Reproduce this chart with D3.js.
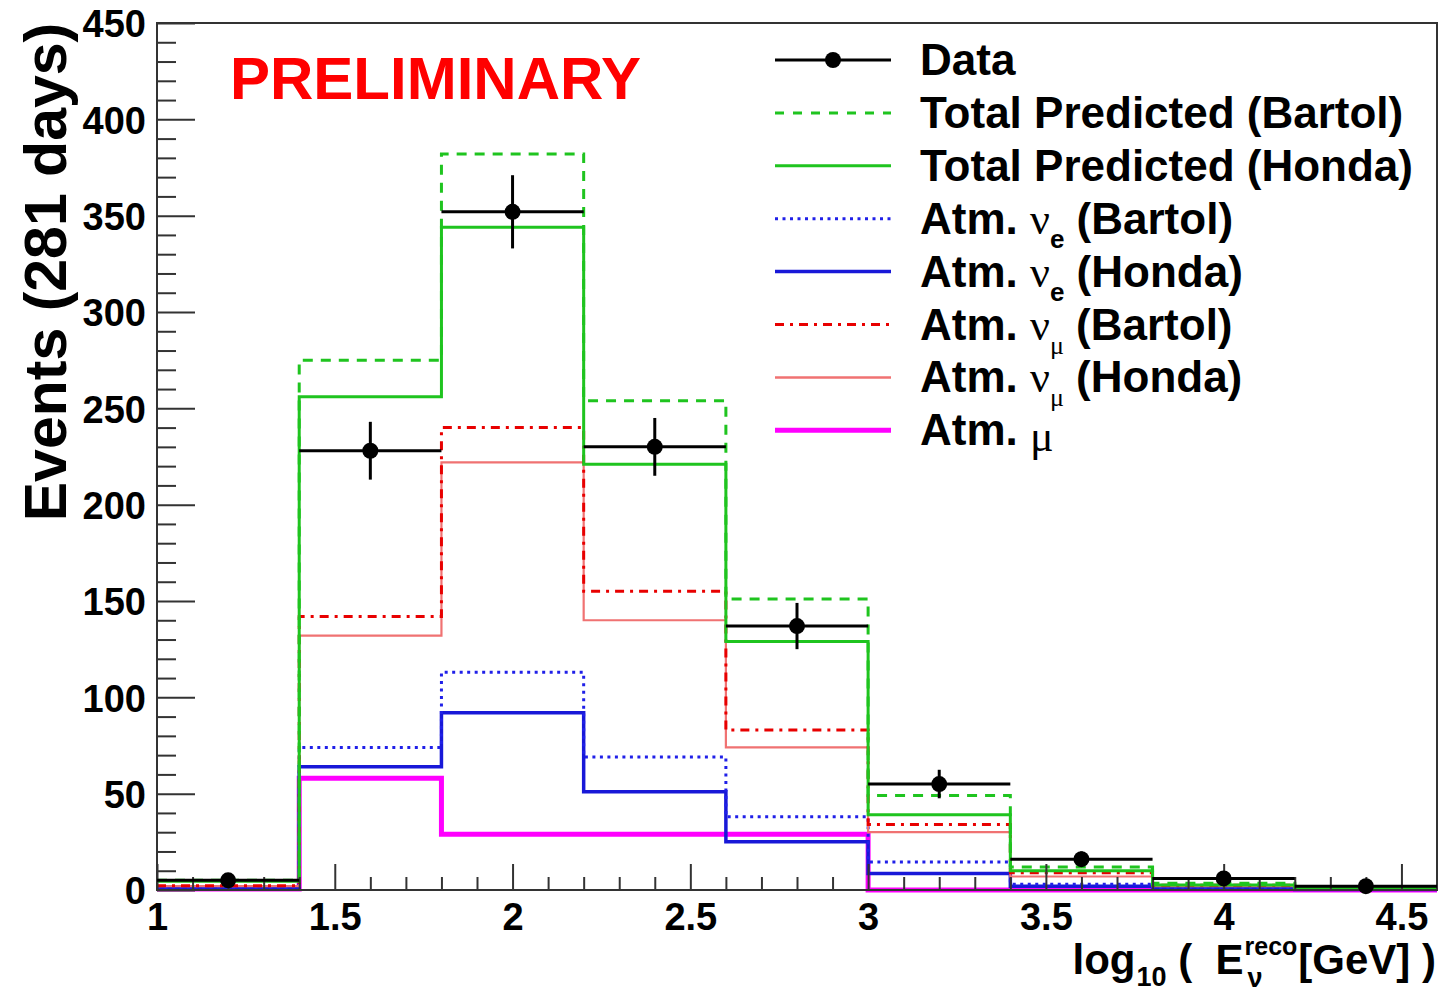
<!DOCTYPE html>
<html><head><meta charset="utf-8">
<script src="https://cdn.jsdelivr.net/npm/d3@7"></script>
<style>body{margin:0;background:#fff}text{font-family:"Liberation Sans",Arial,sans-serif;font-weight:bold}</style>
</head><body><svg id="c" width="1449" height="993"></svg>
<script>
// ---- data ----
const binEdges = [1.0,1.4,1.8,2.2,2.6,3.0,3.4,3.8,4.2,4.6];
const dataCounts = [5,228,352,230,137,55,16,6,2];
const dataErrors = [2.2,15,19,15,12,7.4,4,2.4,1.4];
const totalBartol = [5,275,382,254,151,49,12,3.5,1];
const totalHonda = [4.5,256,344,221,129,39,10,2.6,1];
const nueBartol = [1.5,74,113,69,38,14.5,3,1,0.3];
const nueHonda = [1.2,64,92,51,25,8.5,2,0.7,0.2];
const numuBartol = [2.2,142,240,155,83,34,9,2.5,0.8];
const numuHonda = [2,132,222,140,74,30,7,2,0.7];
const atmMu = [0.5,58,29,29,29,0,0,0,0];
const xTickValues = [1,1.5,2,2.5,3,3.5,4,4.5];
const xTickLabels = ["1","1.5","2","2.5","3","3.5","4","4.5"];
const yTickValues = [0,50,100,150,200,250,300,350,400,450];
const legendLabels = [
  ["Data"],["Total Predicted (Bartol)"],["Total Predicted (Honda)"],
  ["Atm. ","ν","e"," (Bartol)"],["Atm. ","ν","e"," (Honda)"],
  ["Atm. ","ν","μ"," (Bartol)"],["Atm. ","ν","μ"," (Honda)"],["Atm. ","μ"]
];

const svg = d3.select("#c");
const x = d3.scaleLinear().domain([1,4.6]).range([157,1437]);
const y = d3.scaleLinear().domain([0,450]).range([890,23]);
const greekFont = "Liberation Serif, Times New Roman, serif";

const series = [
  {vals: atmMu, color:"#ff00ff", w:5, dash:null},
  {vals: nueHonda, color:"#1818d8", w:3.5, dash:null},
  {vals: nueBartol, color:"#2020e8", w:3, dash:"3,4.5"},
  {vals: numuHonda, color:"#f07272", w:2.2, dash:null},
  {vals: numuBartol, color:"#e80000", w:3, dash:"9,6,3,6"},
  {vals: totalBartol, color:"#1fc41f", w:3, dash:"10,8"},
  {vals: totalHonda, color:"#1fc41f", w:3, dash:null}
];
const stepLine = d3.line().x(d=>x(d[0])).y(d=>y(d[1])).curve(d3.curveStepAfter);
series.forEach(s=>{
  const pts = s.vals.map((v,i)=>[binEdges[i],v]);
  pts.push([binEdges[binEdges.length-1], s.vals[s.vals.length-1]]);
  svg.append("path").attr("d",stepLine(pts)).attr("fill","none")
    .attr("stroke",s.color).attr("stroke-width",s.w)
    .attr("stroke-dasharray",s.dash);
});

// frame
svg.append("rect").attr("x",x(1)).attr("y",y(450)).attr("width",x(4.6)-x(1)).attr("height",y(0)-y(450))
  .attr("fill","none").attr("stroke","#333").attr("stroke-width",2);

// axes
const yMinor = d3.range(0,451,10).filter(v=>v%50!==0);
const gy = svg.append("g").attr("transform",`translate(${x(1)},0)`);
gy.call(d3.axisLeft(y).tickValues(yTickValues).tickSize(-38).tickPadding(11).tickFormat(d3.format("d")));
const gym = svg.append("g").attr("transform",`translate(${x(1)},0)`);
gym.call(d3.axisLeft(y).tickValues(yMinor).tickSize(-19).tickFormat(""));
const xMinor = d3.range(10,46).map(v=>v/10).filter(v=>Math.round(v*10)%5!==0);
const gx = svg.append("g").attr("transform",`translate(0,${y(0)})`);
gx.call(d3.axisBottom(x).tickValues(xTickValues).tickSize(-26).tickPadding(13).tickFormat((d,i)=>xTickLabels[i]));
const gxm = svg.append("g").attr("transform",`translate(0,${y(0)})`);
gxm.call(d3.axisBottom(x).tickValues(xMinor).tickSize(-13).tickFormat(""));
[gy,gym,gx,gxm].forEach(g=>{
  g.select(".domain").remove();
  g.selectAll(".tick line").attr("stroke","#333").attr("stroke-width",2);
  g.selectAll("text").attr("font-size",38).attr("fill","#000")
   .attr("font-family","Liberation Sans, Arial, sans-serif").attr("font-weight","bold");
});
gy.selectAll("text").attr("dy","0.36em");
gx.selectAll("text").attr("dy","0.72em");

// data points
const centers = binEdges.slice(0,-1).map((e,i)=>(e+binEdges[i+1])/2);
const gd = svg.append("g");
dataCounts.forEach((v,i)=>{
  gd.append("line").attr("x1",x(binEdges[i])).attr("x2",x(binEdges[i+1])).attr("y1",y(v)).attr("y2",y(v))
    .attr("stroke","#000").attr("stroke-width",3);
  gd.append("line").attr("x1",x(centers[i])).attr("x2",x(centers[i])).attr("y1",y(v-dataErrors[i])).attr("y2",y(v+dataErrors[i]))
    .attr("stroke","#000").attr("stroke-width",3);
  gd.append("circle").attr("cx",x(centers[i])).attr("cy",y(v)).attr("r",8).attr("fill","#000");
});

// PRELIMINARY
svg.append("text").attr("x",230).attr("y",99).attr("font-size",60).attr("fill","#ff0000").text("PRELIMINARY");

// y title
svg.append("text").attr("transform","translate(66,272) rotate(-90)").attr("text-anchor","middle")
  .attr("font-size",59).attr("fill","#000").text("Events (281 days)");

// x title
(function(){
  const g = svg.append("g");
  const t1 = g.append("text").attr("font-size",42).attr("x",0).attr("y",0).text("log");
  let cx = t1.node().getComputedTextLength();
  const t2 = g.append("text").attr("font-size",27).attr("x",cx+1).attr("y",12).text("10");
  cx += 1 + t2.node().getComputedTextLength();
  const t3 = g.append("text").attr("font-size",42).attr("x",cx).attr("y",0).attr("xml:space","preserve").text(" (  E");
  cx += t3.node().getComputedTextLength();
  const t4 = g.append("text").attr("font-size",25).attr("x",cx+1).attr("y",-19).text("reco");
  const t5 = g.append("text").attr("font-size",27).attr("x",cx+4).attr("y",13)
    .attr("font-family",greekFont).attr("font-weight","normal").text("ν");
  cx += 2 + Math.max(t4.node().getComputedTextLength(), t5.node().getComputedTextLength());
  const t6 = g.append("text").attr("font-size",42).attr("x",cx).attr("y",0).attr("xml:space","preserve").text("[GeV] )");
  cx += t6.node().getComputedTextLength();
  g.attr("transform",`translate(${1436-cx},974)`);
})();

// legend
const legStyles = [
  {type:"data"},
  {color:"#1fc41f", w:3, dash:"9,9"},
  {color:"#1fc41f", w:3, dash:null},
  {color:"#2020e8", w:3, dash:"3,4.5"},
  {color:"#1818d8", w:3.5, dash:null},
  {color:"#e80000", w:3, dash:"9,6,3,6"},
  {color:"#f07272", w:2.5, dash:null},
  {color:"#ff00ff", w:5, dash:null}
];
const lg = svg.append("g");
legendLabels.forEach((lab,i)=>{
  const ly = 60 + i*52.9;
  const st = legStyles[i];
  if(st.type==="data"){
    lg.append("line").attr("x1",775).attr("x2",891).attr("y1",ly).attr("y2",ly).attr("stroke","#000").attr("stroke-width",3);
    lg.append("circle").attr("cx",833).attr("cy",ly).attr("r",8).attr("fill","#000");
  } else {
    lg.append("line").attr("x1",775).attr("x2",891).attr("y1",ly).attr("y2",ly)
      .attr("stroke",st.color).attr("stroke-width",st.w).attr("stroke-dasharray",st.dash);
  }
  const t = lg.append("text").attr("x",920).attr("y",ly+15).attr("font-size",44).attr("fill","#000").attr("xml:space","preserve");
  if(lab.length===1){ t.text(lab[0]); }
  else if(lab.length===2){
    t.append("tspan").text(lab[0]);
    t.append("tspan").attr("font-family",greekFont).attr("font-weight","normal").attr("font-size",44).attr("dy",6).text(lab[1]);
  } else {
    t.append("tspan").text(lab[0]);
    t.append("tspan").attr("font-family",greekFont).attr("font-weight","normal").attr("font-size",44).text(lab[1]);
    const isMu = lab[2]==="μ";
    t.append("tspan").attr("font-size",26).attr("dy",14)
      .attr("font-family", isMu?greekFont:null).attr("font-weight", isMu?"normal":null).text(lab[2]);
    t.append("tspan").attr("dy",-14).text(lab[3]);
  }
});
</script></body></html>
